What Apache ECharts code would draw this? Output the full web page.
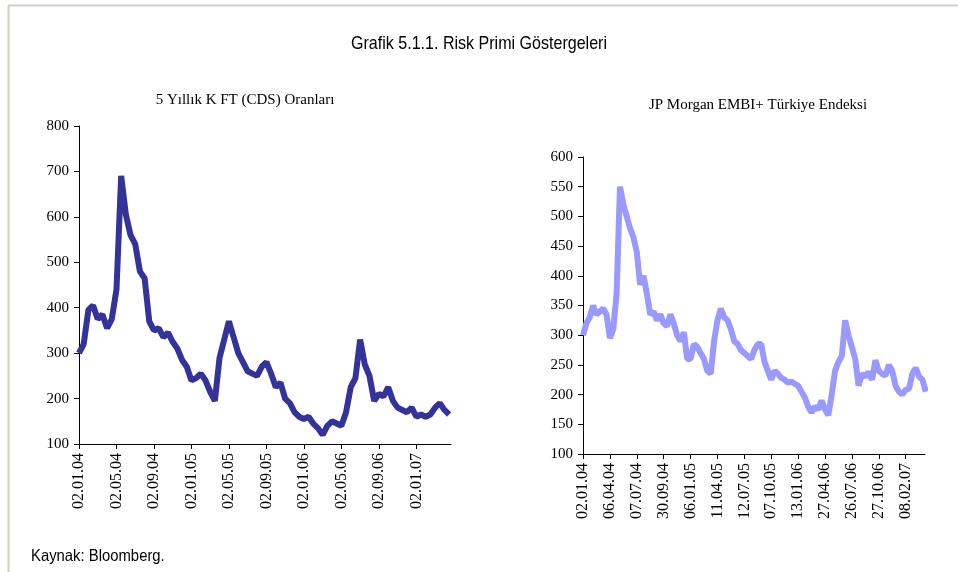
<!DOCTYPE html>
<html>
<head>
<meta charset="utf-8">
<title>Grafik 5.1.1. Risk Primi Göstergeleri</title>
<script src="https://cdn.jsdelivr.net/npm/echarts@6/dist/echarts.min.js"></script>
<style>
  html, body { margin: 0; padding: 0; background: #fff; }
  #main { width: 958px; height: 572px; }
</style>
</head>
<body>
<div id="main"></div>
<script>
// 5 yillik CDS: her yarim ayda bir deger (02.01.04'ten itibaren)
var cdsStep = 0.5;
var cdsValues = [
  300, 320, 395, 405, 375, 385, 355, 375, 440, 690,
  605, 560, 540, 480, 465, 370, 350, 355, 335, 345,
  325, 310, 285, 270, 240, 245, 255, 240, 215, 195,
  290, 330, 370, 335, 300, 280, 260, 255, 250, 270,
  280, 255, 225, 235, 200, 190, 170, 160, 155, 160,
  145, 135, 120, 140, 150, 145, 140, 170, 225, 245,
  330, 275, 250, 195, 210, 205, 225, 195, 180, 175,
  170, 180, 160, 165, 160, 165, 180, 190, 175, 165
];
var cdsTickLabels = ["02.01.04", "02.05.04", "02.09.04", "02.01.05", "02.05.05",
                     "02.09.05", "02.01.06", "02.05.06", "02.09.06", "02.01.07"];

// EMBI+ Turkiye: etiket araliginin 1/8'i adimlarla
var embiStep = 0.125;
var embiValues = [
  300, 320, 330, 350, 335, 340, 345, 335, 295, 310,
  370, 550, 520, 500, 480, 465, 440, 385, 400, 370,
  335, 340, 325, 335, 320, 315, 335, 320, 300, 290,
  305, 260, 260, 285, 280, 270, 260, 240, 235, 290,
  325, 345, 330, 325, 310, 290, 285, 275, 270, 265,
  260, 275, 285, 285, 255, 240, 225, 240, 235, 228,
  225, 220, 222, 218, 215, 205, 195, 180, 170, 180,
  175, 190, 175, 165, 200, 240, 255, 265, 325, 300,
  280, 260, 215, 235, 230, 238, 225, 258, 240, 235,
  232, 250, 240, 215, 205, 200, 208, 210, 235, 245,
  230, 225, 205
];
var embiTickLabels = ["02.01.04", "06.04.04", "07.07.04", "30.09.04", "06.01.05",
                      "11.04.05", "12.07.05", "07.10.05", "13.01.06", "27.04.06",
                      "26.07.06", "27.10.06", "08.02.07"];

var serif = "'Liberation Serif', 'Times New Roman', serif";
var sans = "'Liberation Sans Narrow', 'Arial Narrow', 'Liberation Sans', sans-serif";

var cdsData = cdsValues.map(function(v, i){ return [i * cdsStep, v]; });
var embiData = embiValues.map(function(v, i){ return [i * embiStep, v]; });

var cdsTickPos = cdsTickLabels.map(function(d, i){ return i * 4; });
var embiTickPos = embiTickLabels.map(function(d, i){ return i; });

function xAxisFor(index, maxVal, ticks, labels, per){
  return {
    type: "value",
    gridIndex: index,
    min: 0,
    max: maxVal,
    splitLine: { show: false },
    axisLine: { lineStyle: { color: "#000", width: 1 } },
    axisTick: { length: 5, lineStyle: { color: "#000" }, customValues: ticks },
    axisLabel: {
      customValues: ticks,
      rotate: 90,
      margin: 9,
      color: "#000",
      fontFamily: serif,
      fontSize: 16,
      formatter: function(v){
        var k = Math.round(v / per);
        return labels[k] || "";
      }
    }
  };
}

function yAxisFor(index, minVal, maxVal, step){
  return {
    type: "value",
    gridIndex: index,
    min: minVal,
    max: maxVal,
    interval: step,
    splitLine: { show: false },
    axisLine: { show: true, lineStyle: { color: "#000", width: 1 } },
    axisTick: { show: true, length: 5, lineStyle: { color: "#000" } },
    axisLabel: { margin: 10, color: "#000", fontFamily: serif, fontSize: 15 }
  };
}

var chart = echarts.init(document.getElementById("main"), null, { renderer: "canvas" });

chart.setOption({
  animation: false,
  backgroundColor: "#fff",
  grid: [
    { left: 79, top: 126, width: 372, height: 318 },
    { left: 583, top: 157, width: 342, height: 297 }
  ],
  xAxis: [
    xAxisFor(0, 39.7, cdsTickPos, cdsTickLabels, 4),
    xAxisFor(1, 12.72, embiTickPos, embiTickLabels, 1)
  ],
  yAxis: [
    yAxisFor(0, 100, 800, 100),
    yAxisFor(1, 100, 600, 50)
  ],
  series: [
    {
      name: "5 Yıllık K FT (CDS) Oranları",
      type: "line",
      xAxisIndex: 0,
      yAxisIndex: 0,
      showSymbol: false,
      lineStyle: { color: "#333399", width: 6 },
      data: cdsData
    },
    {
      name: "JP Morgan EMBI+ Türkiye Endeksi",
      type: "line",
      xAxisIndex: 1,
      yAxisIndex: 1,
      showSymbol: false,
      lineStyle: { color: "#9999ff", width: 6 },
      data: embiData
    }
  ],
  graphic: [
    // cerceve
    { type: "line", shape: { x1: 8, y1: 5.5, x2: 958, y2: 5.5 }, style: { stroke: "#d4d0c8", lineWidth: 2 } },
    { type: "line", shape: { x1: 8.5, y1: 5, x2: 8.5, y2: 572 }, style: { stroke: "#d4d0c8", lineWidth: 2 } },
    // dar yazi tipi yok, yatayda sikistiriyoruz
    { type: "text", x: 479, y: 44, scaleX: 0.845, style: { text: "Grafik 5.1.1. Risk Primi Göstergeleri", align: "center", verticalAlign: "middle", font: "19px " + sans, fill: "#000" } },
    { type: "text", x: 245, y: 100, style: { text: "5 Yıllık K FT (CDS) Oranları", align: "center", verticalAlign: "middle", font: "15px " + serif, fill: "#000" } },
    { type: "text", x: 758, y: 105, style: { text: "JP Morgan EMBI+ Türkiye Endeksi", align: "center", verticalAlign: "middle", font: "15px " + serif, fill: "#000" } },
    { type: "text", x: 31, y: 556, scaleX: 0.9, style: { text: "Kaynak: Bloomberg.", align: "left", verticalAlign: "middle", font: "16.5px " + sans, fill: "#000" } }
  ]
});
</script>
</body>
</html>
